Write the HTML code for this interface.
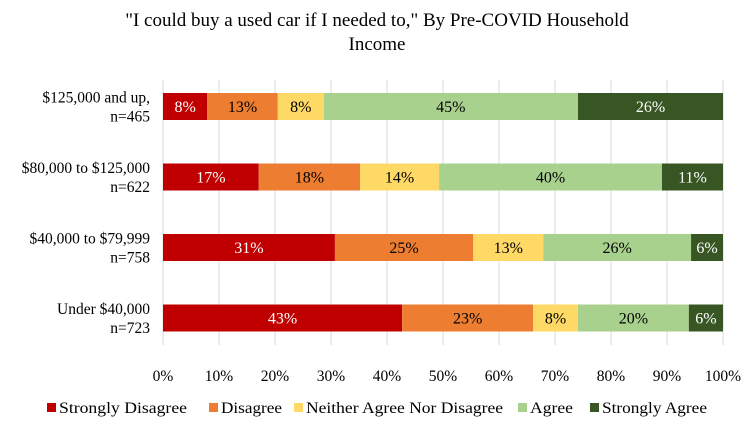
<!DOCTYPE html>
<html><head><meta charset="utf-8"><style>
body{margin:0;background:#fff;font-family:"Liberation Serif",serif;}
svg text{font-family:"Liberation Serif",serif;}
</style></head><body>
<svg id="chart" width="754" height="421">
<text x="377" y="26" text-anchor="middle" font-size="19">"I could buy a used car if I needed to," By Pre-COVID Household</text>
<text x="377" y="50" text-anchor="middle" font-size="19">Income</text>
<g id="grid"></g><g id="plot"></g><g id="legend"></g>
</svg>
<script>
const categories=[["$125,000 and up,","n=465"],["$80,000 to $125,000","n=622"],["$40,000 to $79,999","n=758"],["Under $40,000","n=723"]];
const seriesNames=["Strongly Disagree","Disagree","Neither Agree Nor Disagree","Agree","Strongly Agree"];
const stronglyDisagree=[7.9,17.1,30.7,42.7];
const disagree=[12.6,18.1,24.7,23.4];
const neither=[8.2,14.1,12.5,8.0];
const agree=[45.4,39.8,26.4,19.8];
const stronglyAgree=[25.9,10.9,5.7,6.1];
const ticks=[0,10,20,30,40,50,60,70,80,90,100];
const series=[stronglyDisagree,disagree,neither,agree,stronglyAgree];
const colors=["#c00000","#ed7d31","#ffd966","#a9d18e","#375623"];
const textColors=["#fff","#000","#000","#000","#fff"];
const NS="http://www.w3.org/2000/svg";
const x0=163,x1=723;
const xs=v=>x0+(x1-x0)*v/100;
const rowY=i=>93+i*70.5, barH=27;
const plot=document.getElementById('plot');
const grid=document.getElementById('grid');
function mk(tag,attrs,parent){const e=document.createElementNS(NS,tag);for(const k in attrs)e.setAttribute(k,attrs[k]);parent.appendChild(e);return e;}
ticks.forEach(v=>{
  const g=mk('line',{x1:xs(v),x2:xs(v),y1:80,y2:345,stroke:'#d9d9d9','stroke-width':1},grid);
  
  
});
categories.forEach((c,i)=>{
  const y=rowY(i);
  let cum=0;
  series.forEach((s,j)=>{
    const v=s[i];
    const r=mk('rect',{x:xs(cum),y:y,width:xs(cum+v)-xs(cum),height:barH,fill:colors[j]},plot);
    
    
    const t=mk('text',{x:(xs(cum)+xs(cum+v))/2,y:y+barH/2+5.5,'text-anchor':'middle','font-size':'16',fill:textColors[j]},plot);
    t.textContent=Math.round(v)+'%';
    
    
    cum+=v;
  });
  c.forEach((line,k)=>{
    const t=mk('text',{x:150,y:y+barH/2-4+k*19,'text-anchor':'end','font-size':'15.5'},plot);
    t.textContent=line;
    
    
  });
});
ticks.forEach(v=>{
  const t=mk('text',{x:xs(v),y:381,'text-anchor':'middle','font-size':'15.5'},plot);
  t.textContent=v+'%';
  
  
});
const leg=document.getElementById('legend');
const legX=[47,209,294,518,590];
const legW=[128,61,197,43,105];
seriesNames.forEach((n,j)=>{
  const r=mk('rect',{x:legX[j],y:403,width:9,height:9,fill:colors[j]},leg);
  
  
  const t=mk('text',{x:legX[j]+12,y:413,'font-size':'16',textLength:legW[j],lengthAdjust:'spacingAndGlyphs'},leg);
  t.textContent=n;
  
  
});
</script>
</body></html>
